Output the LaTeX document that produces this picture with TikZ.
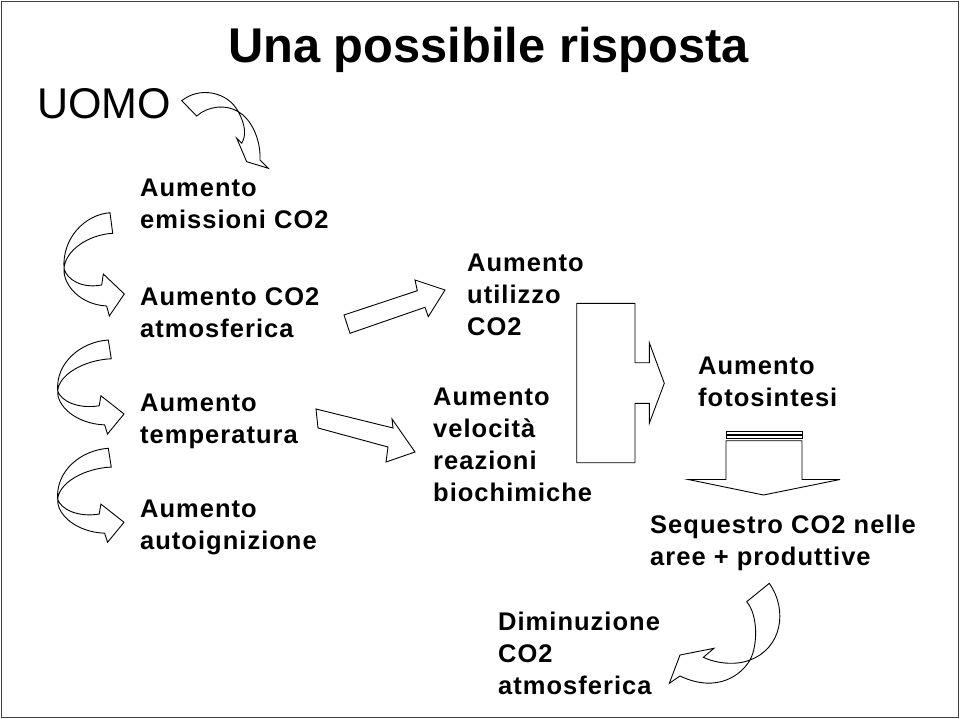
\documentclass[tikz,border=0pt]{standalone}
\usepackage{fontspec}
\setmainfont{Liberation Sans}
\tikzset{
  txt/.style={anchor=north west, inner sep=0pt, align=left,
    font=\fontsize{25.5}{32}\selectfont\bfseries\addfontfeature{LetterSpace=4}},
  shp/.style={draw=black, line width=0.9pt, line join=miter},
  sidearc/.pic={
    \draw[shp] (0,0) .. controls (-25,2) and (-48,25) .. (-46,56)
      .. controls (-43,67) and (-28,76) .. (-8.3,72.3) -- (-6.7,61.3) -- (14.3,81.3)
      -- (-0.7,103.3) -- (-3.3,93.3) .. controls (-30,92) and (-47,72) .. (-46,56)
      .. controls (-45,38) and (-22,22) .. (2.7,20.6) -- cycle;
  }
}
\begin{document}
\begin{tikzpicture}[x=1pt, y=-1pt]
\useasboundingbox (0,0) rectangle (960,719);
\draw[line width=1.5pt, black!75] (1.5,1.5) rectangle (958.5,717.5);

% titles
\node[anchor=north west, inner sep=0pt, font=\fontsize{48.8}{58}\selectfont\bfseries] (title) at (228,27) {Una possibile risposta};
\node[anchor=north west, inner sep=0pt, font=\fontsize{43}{50}\selectfont] (uomo) at (37,88) {UOMO};

% left column
\node[txt] (emissioni) at (140,179) {Aumento\\emissioni CO2};
\node[txt] (atmo) at (140,287) {Aumento CO2\\atmosferica};
\node[txt] (temp) at (140,394) {Aumento\\temperatura};
\node[txt] (autoign) at (140,500) {Aumento\\autoignizione};

% middle
\node[txt] (utilizzo) at (467,254) {Aumento\\utilizzo\\CO2};
\node[txt] (velocita) at (433,388) {Aumento\\velocità\\reazioni\\biochimiche};
\node[txt] (fotosintesi) at (698,357) {Aumento\\fotosintesi};
\node[txt] (sequestro) at (650,515) {Sequestro CO2 nelle\\aree + produttive};
\node[txt] (diminuzione) at (498,612) {Diminuzione\\CO2\\atmosferica};

% curved arrow from UOMO
\draw[shp] (181.7,100.7) .. controls (200,86) and (228,92) .. (238.3,111.7)
  .. controls (246,126) and (246,136) .. (241.7,143.3) -- (236.7,138.3) -- (246.7,161.7)
  -- (268.3,168.3) -- (260,160) .. controls (261,138) and (250,118) .. (238.3,111.7)
  .. controls (226,104) and (208,106) .. (196.7,116) -- cycle;

% curved arrows on the left
\pic at (110,212.7) {sidearc};
\pic[xscale=1.1, yscale=0.91] at (108.3,340) {sidearc};
\pic[xscale=1.1, yscale=0.91] at (108.3,448.3) {sidearc};

% straight block arrows
\draw[shp] (344,315) -- (417.3,290.7) -- (415,280) -- (445,290) -- (428.3,316.7)
  -- (425,307.3) -- (350,333.3) -- cycle;
\draw[shp] (316,409) -- (393,428) -- (392,419) -- (415,452) -- (386,462)
  -- (388,447) -- (318,428) -- cycle;

% bracket arrow
\draw[shp] (635,362.7) -- (635,303.3) -- (576.7,303.3) -- (576.7,462.7) -- (635,462.7)
  -- (635,403.3) -- (649.3,403.3) -- (649.3,423.3) -- (664.3,383.3) -- (649.3,342.7)
  -- (649.3,362.7) -- cycle;

% striped down arrow
\draw[shp, line width=0.7pt] (726,431.5) rectangle (802,434);
\draw[shp, line width=0.7pt] (726,435.8) rectangle (802,438.3);
\draw[shp] (726,440.7) -- (726,479.5) -- (688.3,479.5) -- (763.5,495) -- (840,479.5)
  -- (802,479.5) -- (802,440.7) -- cycle;

% curved arrow at the bottom
\draw[shp] (769.3,583.3) .. controls (788,610) and (782,648) .. (750,660)
  .. controls (735,666) and (715,663) .. (703.3,657.3) -- (714,648.3) -- (680,655)
  -- (669.3,683.3) -- (680,676) .. controls (718,694) and (742,674) .. (750,660)
  .. controls (758,645) and (758,615) .. (746.7,601.7) -- cycle;
\end{tikzpicture}
\end{document}
